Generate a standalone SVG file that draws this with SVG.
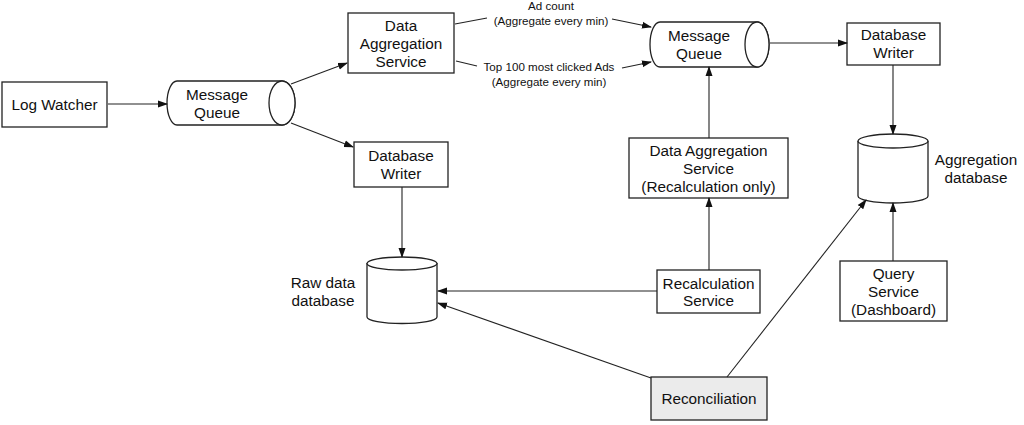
<svg xmlns="http://www.w3.org/2000/svg" width="1024" height="425" viewBox="0 0 1024 425">
<defs>
<marker id="ah" markerWidth="10" markerHeight="8" refX="9" refY="4" orient="auto" markerUnits="userSpaceOnUse">
<path d="M0,0.5 L10,4 L0,7.5 Z" fill="#111"/>
</marker>
<style>
.box{fill:#fff;stroke:#222;stroke-width:1.3}
.t{font-family:"Liberation Sans",Arial,sans-serif;font-size:15.3px;fill:#111;text-anchor:middle}
.s{font-family:"Liberation Sans",Arial,sans-serif;font-size:11.6px;fill:#111;text-anchor:middle}
.c{fill:none;stroke:#222;stroke-width:1.1}
.a{fill:none;stroke:#222;stroke-width:1.1;marker-end:url(#ah)}
</style>
</defs>
<rect width="1024" height="425" fill="#fff"/>

<g id="log-watcher">
<rect class="box" x="2" y="82" width="105" height="45"/>
<text class="t" x="54.5" y="110">Log Watcher</text>
</g>

<g id="message-queue-1">
<path class="box" d="M177,81 H282 A13,22 0 0 1 282,125 H177 A10,22 0 0 1 177,81 Z"/>
<ellipse class="box" cx="282" cy="103" rx="13" ry="22"/>
<text class="t" x="217" y="100">Message</text>
<text class="t" x="217" y="118">Queue</text>
</g>

<g id="data-aggregation-service">
<rect class="box" x="348" y="13" width="106" height="60"/>
<text class="t" x="401" y="31">Data</text>
<text class="t" x="401" y="49">Aggregation</text>
<text class="t" x="401" y="67">Service</text>
</g>

<g id="database-writer-1">
<rect class="box" x="354" y="142" width="94" height="45"/>
<text class="t" x="401" y="161">Database</text>
<text class="t" x="401" y="179">Writer</text>
</g>

<g id="raw-data-database">
<path class="box" d="M367,263 V317 A35,6.5 0 0 0 437,317 V263"/>
<ellipse class="box" cx="402" cy="263.5" rx="35" ry="6.5"/>
<text class="t" x="323" y="288">Raw data</text>
<text class="t" x="323" y="306">database</text>
</g>

<g id="message-queue-2">
<path class="box" d="M660,22 H757 A12,22.5 0 0 1 757,67 H660 A10,22.5 0 0 1 660,22 Z"/>
<ellipse class="box" cx="757" cy="44.5" rx="12" ry="22.5"/>
<text class="t" x="699" y="41">Message</text>
<text class="t" x="699" y="59">Queue</text>
</g>

<g id="database-writer-2">
<rect class="box" x="847" y="23" width="93" height="42"/>
<text class="t" x="893.5" y="40">Database</text>
<text class="t" x="893.5" y="58">Writer</text>
</g>

<g id="aggregation-database">
<path class="box" d="M858,141 V196 A35,7 0 0 0 928,196 V141"/>
<ellipse class="box" cx="893" cy="141" rx="35" ry="7"/>
<text class="t" x="976" y="165">Aggregation</text>
<text class="t" x="976" y="183">database</text>
</g>

<g id="data-aggregation-recalc">
<rect class="box" x="629" y="138" width="159" height="60"/>
<text class="t" x="708.5" y="156">Data Aggregation</text>
<text class="t" x="708.5" y="174">Service</text>
<text class="t" x="708.5" y="192">(Recalculation only)</text>
</g>

<g id="recalculation-service">
<rect class="box" x="657" y="270" width="103" height="43"/>
<text class="t" x="708.5" y="289">Recalculation</text>
<text class="t" x="708.5" y="306">Service</text>
</g>

<g id="query-service">
<rect class="box" x="840" y="261" width="107" height="60"/>
<text class="t" x="893.5" y="279">Query</text>
<text class="t" x="893.5" y="297">Service</text>
<text class="t" x="893.5" y="315">(Dashboard)</text>
</g>

<g id="reconciliation">
<rect class="box" x="651" y="377" width="116" height="43" style="fill:#ebebeb"/>
<text class="t" x="709" y="404">Reconciliation</text>
</g>

<g id="connectors">
<line class="a" x1="108" y1="104" x2="167" y2="104"/>
<line class="a" x1="291" y1="84" x2="347" y2="63"/>
<line class="a" x1="291" y1="123" x2="353" y2="147"/>
<line class="c" x1="455" y1="24" x2="487" y2="18"/>
<line class="a" x1="612" y1="19" x2="651" y2="27"/>
<line class="c" x1="456" y1="61" x2="477" y2="66"/>
<line class="a" x1="622" y1="68" x2="651" y2="62"/>
<line class="a" x1="770" y1="43" x2="847" y2="43"/>
<line class="a" x1="893" y1="65" x2="893" y2="134"/>
<line class="a" x1="402" y1="187" x2="402" y2="257"/>
<line class="a" x1="709" y1="138" x2="709" y2="67"/>
<line class="a" x1="709" y1="270" x2="709" y2="198"/>
<line class="a" x1="657" y1="291" x2="438" y2="291"/>
<line class="a" x1="651" y1="378" x2="438" y2="303"/>
<line class="a" x1="727" y1="377" x2="866" y2="200"/>
<line class="a" x1="893" y1="261" x2="893" y2="203"/>
</g>

<g id="labels">
<text class="s" x="551" y="10">Ad count</text>
<text class="s" x="551" y="25">(Aggregate every min)</text>
<text class="s" x="549" y="71">Top 100 most clicked Ads</text>
<text class="s" x="549" y="86">(Aggregate every min)</text>
</g>
</svg>
